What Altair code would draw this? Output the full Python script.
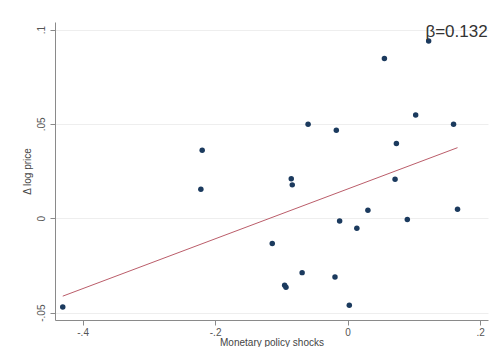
import altair as alt
import pandas as pd

shock = [-0.430, -0.2195, -0.2215, -0.085, -0.0835, -0.1137, -0.0686, -0.095, -0.093,
         -0.019, 0.0026, -0.012, 0.014, 0.0307, 0.0902, 0.166, 0.0717, -0.0596,
         -0.017, 0.0556, 0.1224, 0.1028, 0.160, 0.0737]
dprice = [-0.047, 0.036, 0.0154, 0.021, 0.0177, -0.0134, -0.0288, -0.0355, -0.0365,
          -0.0311, -0.0461, -0.0014, -0.0053, 0.0042, -0.0007, 0.0048, 0.0207, 0.0498,
          0.0466, 0.0846, 0.0939, 0.0547, 0.0498, 0.0396]

beta = 0.132
intercept = 0.0155
label = "β=0.132"
x_ticks = [-0.4, -0.2, 0, 0.2]
y_ticks = [-0.05, 0, 0.05, 0.1]

pts = pd.DataFrame({"x": shock, "y": dprice})
xmin, xmax = min(shock), max(shock)
fit = pd.DataFrame({"x": [xmin, xmax], "y": [intercept + beta * xmin, intercept + beta * xmax]})
ann = pd.DataFrame({"x": [0.2115], "y": [0.0985], "t": [label]})

font = "Liberation Sans"
lab_expr = "(datum.value < 0 ? '-' : '') + replace(format(abs(datum.value), '~g'), '0.', '.')"

xs = alt.Scale(domain=[-0.4417, 0.212], nice=False, zero=False)
ys = alt.Scale(domain=[-0.0539, 0.104], nice=False, zero=False)

xax = alt.Axis(values=x_ticks, labelExpr=lab_expr, grid=False, title="Monetary policy shocks",
               domainColor="#8a8a8a", tickColor="#8a8a8a", tickSize=5, labelColor="#555555",
               labelFont=font, labelFontSize=10, titleFont=font, titleFontSize=10,
               titleFontWeight="normal", titleColor="#444444", labelPadding=2, titlePadding=0)
yax = alt.Axis(values=y_ticks, labelExpr=lab_expr, grid=True, gridColor="#eeeeee",
               title="Δ log price", labelAngle=270, labelAlign="center", labelBaseline="bottom",
               domainColor="#8a8a8a", tickColor="#8a8a8a", tickSize=5, labelColor="#555555",
               labelFont=font, labelFontSize=10, titleFont=font, titleFontSize=10,
               titleFontWeight="normal", titleColor="#444444", labelPadding=4, titlePadding=4)

points = alt.Chart(pts).mark_circle(size=30, color="#1b3a5e", opacity=1).encode(
    x=alt.X("x:Q", scale=xs, axis=xax),
    y=alt.Y("y:Q", scale=ys, axis=yax),
)
line = alt.Chart(fit).mark_line(color="#bb5d6a", strokeWidth=1).encode(
    x=alt.X("x:Q", scale=xs), y=alt.Y("y:Q", scale=ys)
)
text = alt.Chart(ann).mark_text(align="right", baseline="middle", font=font, fontSize=17,
                                color="#333333").encode(
    x=alt.X("x:Q", scale=xs), y=alt.Y("y:Q", scale=ys), text="t:N"
)

chart = alt.layer(line, points, text).properties(
    width=433, height=298,
    autosize=alt.AutoSizeParams(type="none"),
    padding={"left": 47, "top": 14, "right": 2, "bottom": 27},
).configure_view(stroke=None)

chart.save("out.html", embed_options={"renderer": "svg", "actions": False})
